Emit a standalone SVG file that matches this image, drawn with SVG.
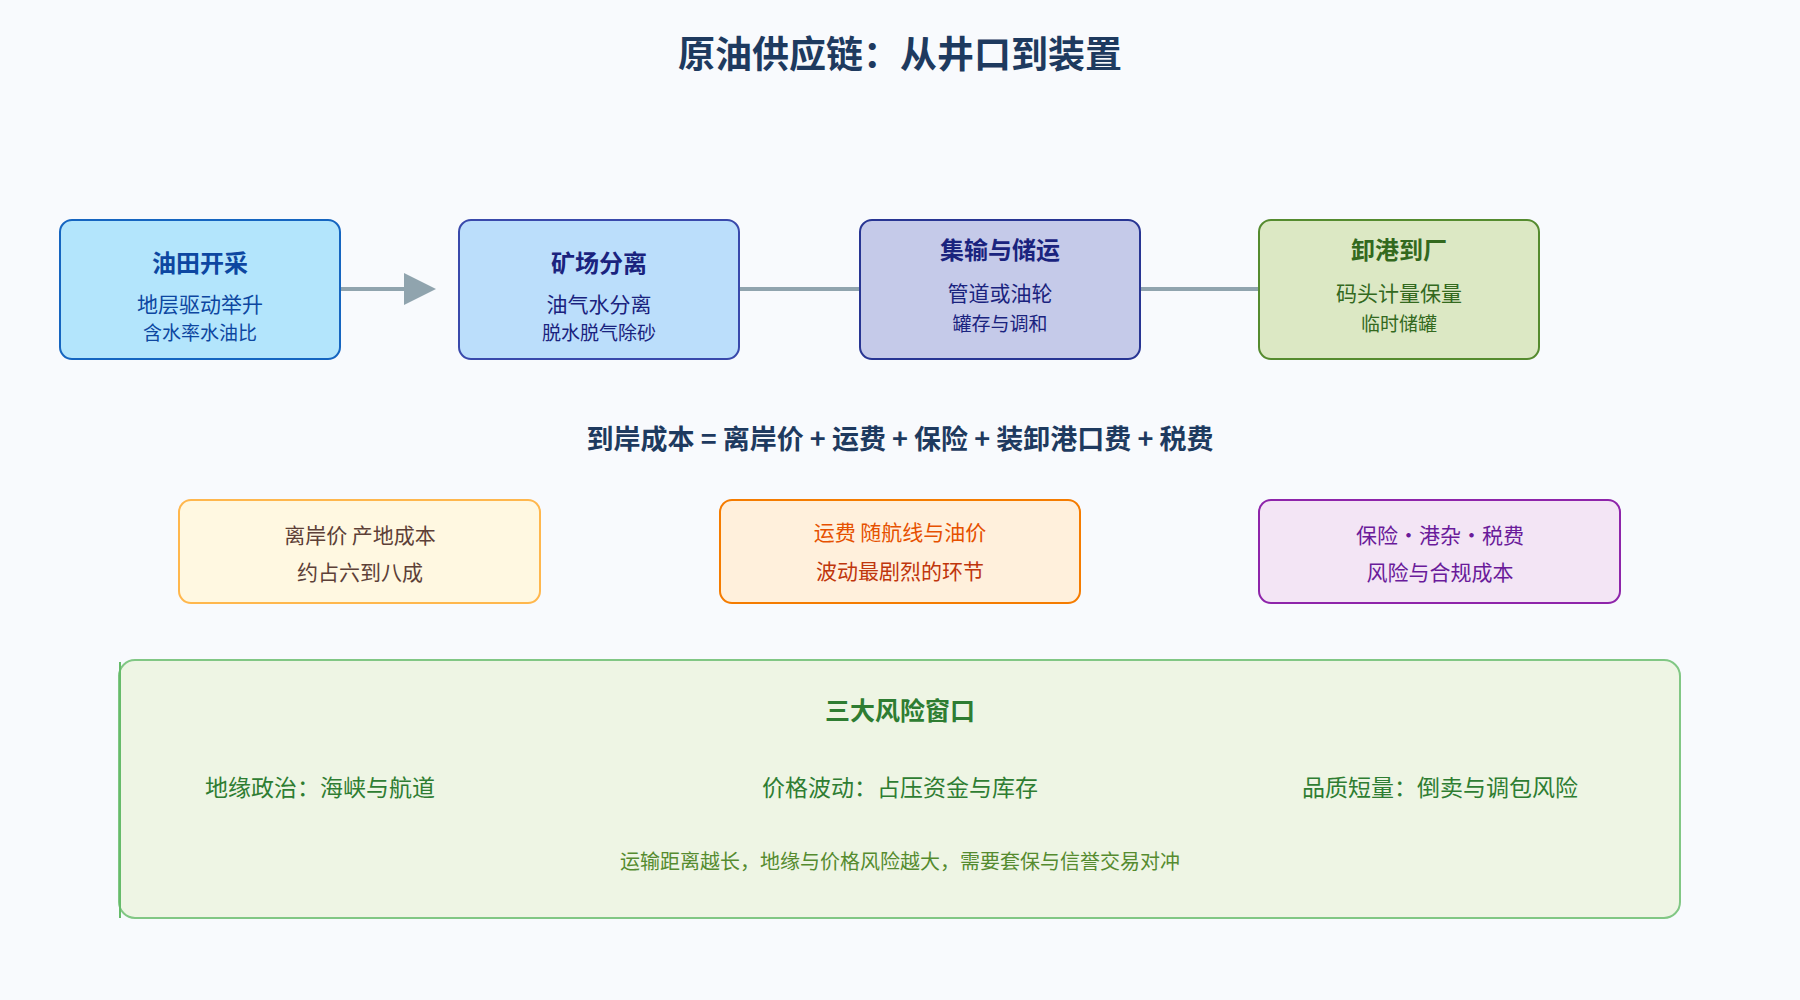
<svg xmlns="http://www.w3.org/2000/svg" width="1800" height="1000" viewBox="0 0 1800 1000">
<style>
text{font-family:"Noto Sans CJK SC","Noto Sans",sans-serif;text-anchor:middle}
.t{font-size:24px;font-weight:bold}
.s{font-size:21px}
.s2{font-size:19px}
.c{stroke:#90a4ae;stroke-width:4;fill:none}
</style>
<defs><marker id="a" markerWidth="8" markerHeight="8" refX="7" refY="4" orient="auto" markerUnits="strokeWidth"><path d="M0,0L8,4L0,8z" fill="#90a4ae"/></marker></defs>
<rect width="1800" height="1000" fill="#f8fafd"/>
<text x="900" y="68" font-size="37" font-weight="bold" fill="#1e3a5f">原油供应链：从井口到装置</text>
<g id="connectors">
<line class="c" x1="340" y1="289" x2="432" y2="289" marker-end="url(#a)"/>
<line class="c" x1="739" y1="289" x2="860" y2="289"/>
<line class="c" x1="1140" y1="289" x2="1259" y2="289"/>
</g>
<g id="n1"><rect x="60" y="220" width="280" height="139" rx="12" fill="#b3e5fc" stroke="#1565c0" stroke-width="2"/>
<text class="t" x="200" y="272" fill="#0d47a1">油田开采</text><text class="s" x="200" y="312" fill="#0d47a1">地层驱动举升</text><text class="s2" x="200" y="340" fill="#0d47a1">含水率水油比</text></g>
<g id="n2"><rect x="459" y="220" width="280" height="139" rx="12" fill="#bbdefb" stroke="#3949ab" stroke-width="2"/>
<text class="t" x="599" y="272" fill="#1a237e">矿场分离</text><text class="s" x="599" y="312" fill="#1a237e">油气水分离</text><text class="s2" x="599" y="340" fill="#1a237e">脱水脱气除砂</text></g>
<g id="n3"><rect x="860" y="220" width="280" height="139" rx="12" fill="#c5cae9" stroke="#283593" stroke-width="2"/>
<text class="t" x="1000" y="259" fill="#1a237e">集输与储运</text><text class="s" x="1000" y="301" fill="#1a237e">管道或油轮</text><text class="s2" x="1000" y="331" fill="#1a237e">罐存与调和</text></g>
<g id="n4"><rect x="1259" y="220" width="280" height="139" rx="12" fill="#dce8c4" stroke="#558b2f" stroke-width="2"/>
<text class="t" x="1399" y="259" fill="#33691e">卸港到厂</text><text class="s" x="1399" y="301" fill="#33691e">码头计量保量</text><text class="s2" x="1399" y="331" fill="#33691e">临时储罐</text></g>
<text x="900" y="449" font-size="27" font-weight="bold" fill="#1e3a5f">到岸成本 = 离岸价 + 运费 + 保险 + 装卸港口费 + 税费</text>
<g id="b1"><rect x="179" y="500" width="361" height="103" rx="12" fill="#fff8e1" stroke="#ffb74d" stroke-width="2"/>
<text class="s" x="360" y="543" fill="#5d4037">离岸价 产地成本</text><text class="s" x="360" y="580" fill="#5d4037">约占六到八成</text></g>
<g id="b2"><rect x="720" y="500" width="360" height="103" rx="12" fill="#fff0dc" stroke="#f57c00" stroke-width="2"/>
<text class="s" x="900" y="540" fill="#e65100">运费 随航线与油价</text><text class="s" x="900" y="579" fill="#bf360c">波动最剧烈的环节</text></g>
<g id="b3"><rect x="1259" y="500" width="361" height="103" rx="12" fill="#f3e5f5" stroke="#8e24aa" stroke-width="2"/>
<text class="s" x="1440" y="543" fill="#6a1b9a">保险·港杂·税费</text><text class="s" x="1440" y="580" fill="#6a1b9a">风险与合规成本</text></g>
<g id="risk"><rect x="119" y="660" width="1561" height="258" rx="16" fill="#eef5e4" stroke="#81c784" stroke-width="2"/>
<line x1="120" y1="662" x2="120" y2="918" stroke="#66bb6a" stroke-width="2"/>
<text x="900" y="720" font-size="25" font-weight="bold" fill="#2e7d32">三大风险窗口</text>
<text x="320" y="796" font-size="23" fill="#2e7d32">地缘政治：海峡与航道</text>
<text x="900" y="796" font-size="23" fill="#2e7d32">价格波动：占压资金与库存</text>
<text x="1440" y="796" font-size="23" fill="#2e7d32">品质短量：倒卖与调包风险</text>
<text x="900" y="869" font-size="20" fill="#558b2f">运输距离越长，地缘与价格风险越大，需要套保与信誉交易对冲</text></g>
</svg>
